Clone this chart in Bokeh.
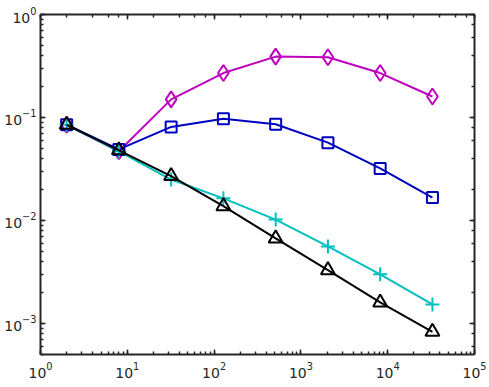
from bokeh.plotting import figure
from bokeh.models import LogAxis, Range1d, LogTicker
from bokeh.embed import file_html
from bokeh.resources import INLINE

x = [2, 8, 32, 128, 512, 2048, 8192, 32768]
y_magenta = [0.085, 0.047, 0.15, 0.27, 0.39, 0.385, 0.27, 0.16]
y_blue = [0.085, 0.049, 0.081, 0.097, 0.086, 0.057, 0.032, 0.0167]
y_cyan = [0.085, 0.047, 0.025, 0.0164, 0.0102, 0.0056, 0.0030, 0.00153]
y_black = [0.085, 0.048, 0.027, 0.0138, 0.0067, 0.0033, 0.0016, 0.00083]

AX = "#262626"

p = figure(width=489, height=387, x_axis_type="log", y_axis_type="log",
           x_range=Range1d(1, 1e5), y_range=Range1d(5e-4, 1),
           output_backend="svg", toolbar_location=None,
           min_border_left=40, min_border_right=15, min_border_top=14, min_border_bottom=33)
p.grid.visible = False
p.outline_line_color = None
p.background_fill_color = "white"

def style(ax, labels=True, standoff=6):
    ax.axis_line_color = AX
    ax.axis_line_width = 2
    ax.major_tick_line_color = AX
    ax.minor_tick_line_color = AX
    ax.major_tick_line_width = 1.5
    ax.minor_tick_line_width = 1.5
    ax.major_tick_in = 5
    ax.major_tick_out = 0
    ax.minor_tick_in = 3
    ax.minor_tick_out = 0
    ax.major_label_text_color = AX
    ax.major_label_text_font = "DejaVu Sans"
    ax.major_label_text_font_size = "14px"
    ax.major_label_standoff = standoff
    if not labels:
        ax.major_label_text_font_size = "1px"
        ax.major_label_text_alpha = 0
        ax.major_label_standoff = 0

for ax in p.xaxis:
    style(ax, standoff=7)
for ax in p.yaxis:
    style(ax, standoff=4)

top = LogAxis(ticker=LogTicker())
style(top, labels=False)
p.add_layout(top, "above")
right = LogAxis(ticker=LogTicker())
style(right, labels=False)
p.add_layout(right, "right")

series = [
    (y_magenta, "#BF00BF", "diamond", 16),
    (y_blue, "#0000BF", "square", 11),
    (y_cyan, "#00BFBF", "cross", 14),
    (y_black, "#000000", "triangle", 14),
]
for ys, c, m, s in series:
    p.line(x, ys, line_color=c, line_width=2)
    p.scatter(x, ys, marker=m, size=s, line_color=c, line_width=2, fill_color=None)

html = file_html(p, INLINE)
html = html.replace("<head>", "<head><style>html,body{overflow:hidden;}</style>", 1)
open("out.html", "w").write(html)
